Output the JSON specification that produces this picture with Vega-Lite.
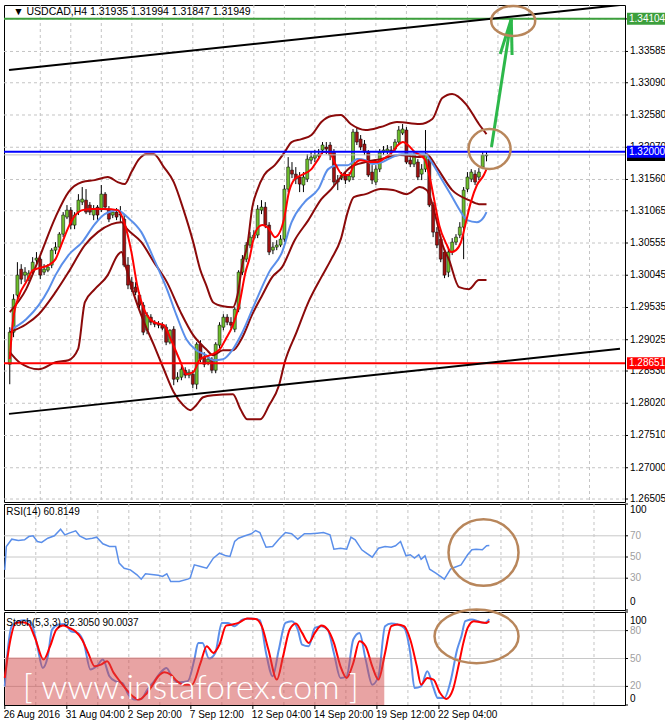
{
"$schema":"https://vega.github.io/schema/vega-lite/v6.json",
"background":"white",
"padding":0,
"spacing":2,
"bounds":"flush",
"config":{"font":"Liberation Sans","view":{"stroke":"#000000","strokeWidth":1}},
"datasets":{
"yticks":[{"v":1.26505},{"v":1.27},{"v":1.2751},{"v":1.2802},{"v":1.2853},{"v":1.29025},{"v":1.29535},{"v":1.30045},{"v":1.30555},{"v":1.31065},{"v":1.3156},{"v":1.3207},{"v":1.3258},{"v":1.3309},{"v":1.33585},{"v":1.341}],
"xgrid":[{"i":8},{"i":16},{"i":24},{"i":32},{"i":40},{"i":48},{"i":56},{"i":64},{"i":72},{"i":80},{"i":88},{"i":96},{"i":104},{"i":112},{"i":120},{"i":128},{"i":136},{"i":144},{"i":152}],
"xlabels":[{"i":0,"t":"26 Aug 2016"},{"i":16,"t":"31 Aug 04:00"},{"i":32,"t":"2 Sep 20:00"},{"i":48,"t":"7 Sep 12:00"},{"i":64,"t":"12 Sep 04:00"},{"i":80,"t":"14 Sep 20:00"},{"i":96,"t":"19 Sep 12:00"},{"i":112,"t":"22 Sep 04:00"}],
"rsilab":[{"v":100},{"v":70},{"v":50},{"v":30},{"v":0}],
"stolab":[{"v":100},{"v":80},{"v":50},{"v":20},{"v":0}],
"candles":[
{"i":0,"o":1.28637,"c":1.29144,"h":1.29223,"l":1.28321},{"i":1,"o":1.29144,"c":1.29666,"h":1.29745,"l":1.29065},{"i":2,"o":1.29730,"c":1.30047,"h":1.30252,"l":1.29650},{"i":3,"o":1.30141,"c":1.29983,"h":1.30220,"l":1.29904},{"i":4,"o":1.30047,"c":1.30094,"h":1.30173,"l":1.29936},{"i":5,"o":1.29999,"c":1.30078,"h":1.30125,"l":1.29952},{"i":6,"o":1.30094,"c":1.30252,"h":1.30332,"l":1.30047},{"i":7,"o":1.30284,"c":1.30316,"h":1.30411,"l":1.30220},{"i":8,"o":1.30300,"c":1.30047,"h":1.30332,"l":1.29983},{"i":9,"o":1.30094,"c":1.30141,"h":1.30220,"l":1.30047},
{"i":10,"o":1.30125,"c":1.30173,"h":1.30220,"l":1.30094},{"i":11,"o":1.30205,"c":1.30442,"h":1.30474,"l":1.30157},{"i":12,"o":1.30442,"c":1.30490,"h":1.30569,"l":1.30379},{"i":13,"o":1.30490,"c":1.30695,"h":1.30727,"l":1.30442},{"i":14,"o":1.30695,"c":1.30997,"h":1.31044,"l":1.30648},{"i":15,"o":1.30965,"c":1.31075,"h":1.31155,"l":1.30933},{"i":16,"o":1.31075,"c":1.30838,"h":1.31123,"l":1.30774},{"i":17,"o":1.30838,"c":1.30997,"h":1.31044,"l":1.30774},{"i":18,"o":1.31044,"c":1.31233,"h":1.31328,"l":1.30997},{"i":19,"o":1.31202,"c":1.31249,"h":1.31440,"l":1.31155},
{"i":20,"o":1.31233,"c":1.31044,"h":1.31408,"l":1.31012},{"i":21,"o":1.31155,"c":1.31044,"h":1.31202,"l":1.30997},{"i":22,"o":1.30997,"c":1.31091,"h":1.31155,"l":1.30917},{"i":23,"o":1.31123,"c":1.30997,"h":1.31155,"l":1.30917},{"i":24,"o":1.31091,"c":1.31328,"h":1.31472,"l":1.31044},{"i":25,"o":1.31328,"c":1.31123,"h":1.31360,"l":1.31075},{"i":26,"o":1.31091,"c":1.30933,"h":1.31139,"l":1.30885},{"i":27,"o":1.30997,"c":1.31044,"h":1.31091,"l":1.30949},{"i":28,"o":1.31044,"c":1.30965,"h":1.31107,"l":1.30917},{"i":29,"o":1.31012,"c":1.30997,"h":1.31139,"l":1.30885},
{"i":30,"o":1.30933,"c":1.30205,"h":1.31012,"l":1.30173},{"i":31,"o":1.30205,"c":1.29889,"h":1.30332,"l":1.29825},{"i":32,"o":1.29936,"c":1.29825,"h":1.30015,"l":1.29777},{"i":33,"o":1.29857,"c":1.29777,"h":1.29936,"l":1.29730},{"i":34,"o":1.29730,"c":1.29572,"h":1.29777,"l":1.29524},{"i":35,"o":1.29572,"c":1.29144,"h":1.29619,"l":1.29097},{"i":36,"o":1.29175,"c":1.29414,"h":1.29461,"l":1.29112},{"i":37,"o":1.29382,"c":1.29302,"h":1.29429,"l":1.29255},{"i":38,"o":1.29302,"c":1.29270,"h":1.29334,"l":1.29223},{"i":39,"o":1.29270,"c":1.29255,"h":1.29319,"l":1.29207},
{"i":40,"o":1.29255,"c":1.29207,"h":1.29302,"l":1.29175},{"i":41,"o":1.29223,"c":1.28986,"h":1.29270,"l":1.28939},{"i":42,"o":1.28986,"c":1.29175,"h":1.29191,"l":1.28954},{"i":43,"o":1.29191,"c":1.28400,"h":1.29239,"l":1.28306},{"i":44,"o":1.28400,"c":1.28432,"h":1.28511,"l":1.28353},{"i":45,"o":1.28432,"c":1.28558,"h":1.28606,"l":1.28384},{"i":46,"o":1.28542,"c":1.28464,"h":1.28590,"l":1.28416},{"i":47,"o":1.28464,"c":1.28511,"h":1.28558,"l":1.28416},{"i":48,"o":1.28479,"c":1.28321,"h":1.28542,"l":1.28258},{"i":49,"o":1.28321,"c":1.28954,"h":1.28986,"l":1.28242},
{"i":50,"o":1.28954,"c":1.28717,"h":1.29017,"l":1.28669},{"i":51,"o":1.28749,"c":1.28637,"h":1.28828,"l":1.28590},{"i":52,"o":1.28669,"c":1.28717,"h":1.28765,"l":1.28622},{"i":53,"o":1.28717,"c":1.28542,"h":1.28749,"l":1.28495},{"i":54,"o":1.28542,"c":1.28954,"h":1.28986,"l":1.28495},{"i":55,"o":1.28939,"c":1.29255,"h":1.29302,"l":1.28891},{"i":56,"o":1.29223,"c":1.29382,"h":1.29429,"l":1.29175},{"i":57,"o":1.29382,"c":1.29302,"h":1.29429,"l":1.29255},{"i":58,"o":1.29302,"c":1.29255,"h":1.29382,"l":1.29207},{"i":59,"o":1.29191,"c":1.29508,"h":1.29540,"l":1.29144},
{"i":60,"o":1.29508,"c":1.30094,"h":1.30125,"l":1.29461},{"i":61,"o":1.30094,"c":1.30300,"h":1.30364,"l":1.30047},{"i":62,"o":1.30300,"c":1.30522,"h":1.30569,"l":1.30252},{"i":63,"o":1.30522,"c":1.30648,"h":1.30727,"l":1.30474},{"i":64,"o":1.30632,"c":1.30680,"h":1.30758,"l":1.30600},{"i":65,"o":1.30680,"c":1.31091,"h":1.31155,"l":1.30632},{"i":66,"o":1.31075,"c":1.31123,"h":1.31233,"l":1.31012},{"i":67,"o":1.31123,"c":1.30838,"h":1.31202,"l":1.30790},{"i":68,"o":1.30838,"c":1.30411,"h":1.30885,"l":1.30364},{"i":69,"o":1.30442,"c":1.30490,"h":1.30569,"l":1.30379},
{"i":70,"o":1.30490,"c":1.30522,"h":1.30600,"l":1.30442},{"i":71,"o":1.30522,"c":1.30616,"h":1.30680,"l":1.30490},{"i":72,"o":1.30616,"c":1.31408,"h":1.31472,"l":1.30569},{"i":73,"o":1.31408,"c":1.31756,"h":1.31914,"l":1.31360},{"i":74,"o":1.31708,"c":1.31645,"h":1.31835,"l":1.31582},{"i":75,"o":1.31645,"c":1.31566,"h":1.31756,"l":1.31487},{"i":76,"o":1.31598,"c":1.31487,"h":1.31677,"l":1.31360},{"i":77,"o":1.31472,"c":1.31598,"h":1.31677,"l":1.31360},{"i":78,"o":1.31566,"c":1.31882,"h":1.31961,"l":1.31519},{"i":79,"o":1.31866,"c":1.31914,"h":1.31993,"l":1.31803},
{"i":80,"o":1.31898,"c":1.31946,"h":1.32025,"l":1.31835},{"i":81,"o":1.31930,"c":1.31961,"h":1.32041,"l":1.31882},{"i":82,"o":1.32025,"c":1.32105,"h":1.32152,"l":1.31961},{"i":83,"o":1.32073,"c":1.32041,"h":1.32152,"l":1.31961},{"i":84,"o":1.32105,"c":1.31946,"h":1.32152,"l":1.31866},{"i":85,"o":1.31993,"c":1.31519,"h":1.32041,"l":1.31456},{"i":86,"o":1.31550,"c":1.31519,"h":1.31630,"l":1.31392},{"i":87,"o":1.31582,"c":1.31630,"h":1.31677,"l":1.31550},{"i":88,"o":1.31630,"c":1.31550,"h":1.31677,"l":1.31487},{"i":89,"o":1.31550,"c":1.31614,"h":1.31677,"l":1.31519},
{"i":90,"o":1.31598,"c":1.32310,"h":1.32357,"l":1.31550},{"i":91,"o":1.32310,"c":1.32152,"h":1.32389,"l":1.32105},{"i":92,"o":1.32199,"c":1.32073,"h":1.32263,"l":1.32025},{"i":93,"o":1.32120,"c":1.31993,"h":1.32184,"l":1.31946},{"i":94,"o":1.31993,"c":1.31630,"h":1.32025,"l":1.31598},{"i":95,"o":1.31677,"c":1.31550,"h":1.31787,"l":1.31487},{"i":96,"o":1.31519,"c":1.31724,"h":1.31787,"l":1.31472},{"i":97,"o":1.31724,"c":1.31993,"h":1.32041,"l":1.31677},{"i":98,"o":1.31993,"c":1.32025,"h":1.32089,"l":1.31946},{"i":99,"o":1.32009,"c":1.32041,"h":1.32105,"l":1.31961},
{"i":100,"o":1.32025,"c":1.31993,"h":1.32089,"l":1.31946},{"i":101,"o":1.32041,"c":1.32152,"h":1.32199,"l":1.31993},{"i":102,"o":1.32152,"c":1.32342,"h":1.32405,"l":1.32120},{"i":103,"o":1.32294,"c":1.32357,"h":1.32437,"l":1.32263},{"i":104,"o":1.32342,"c":1.31835,"h":1.32389,"l":1.31803},{"i":105,"o":1.31866,"c":1.31803,"h":1.31914,"l":1.31756},{"i":106,"o":1.31803,"c":1.31946,"h":1.31993,"l":1.31756},{"i":107,"o":1.31835,"c":1.31598,"h":1.31882,"l":1.31550},{"i":108,"o":1.31645,"c":1.31724,"h":1.31803,"l":1.31550},{"i":109,"o":1.31724,"c":1.31946,"h":1.32342,"l":1.31677},
{"i":110,"o":1.31882,"c":1.31155,"h":1.31946,"l":1.31123},{"i":111,"o":1.31155,"c":1.30727,"h":1.31202,"l":1.30648},{"i":112,"o":1.30727,"c":1.30522,"h":1.30806,"l":1.30474},{"i":113,"o":1.30616,"c":1.30300,"h":1.30664,"l":1.30252},{"i":114,"o":1.30411,"c":1.30047,"h":1.30458,"l":1.29999},{"i":115,"o":1.30094,"c":1.30411,"h":1.30458,"l":1.30015},{"i":116,"o":1.30411,"c":1.30569,"h":1.30632,"l":1.30364},{"i":117,"o":1.30569,"c":1.30648,"h":1.30695,"l":1.30522},{"i":118,"o":1.30680,"c":1.30806,"h":1.30885,"l":1.30632},{"i":119,"o":1.30806,"c":1.31392,"h":1.31440,"l":1.30300},
{"i":120,"o":1.31408,"c":1.31598,"h":1.31677,"l":1.31360},{"i":121,"o":1.31566,"c":1.31677,"h":1.31724,"l":1.31519},{"i":122,"o":1.31645,"c":1.31519,"h":1.31708,"l":1.31472},{"i":123,"o":1.31598,"c":1.31677,"h":1.31740,"l":1.31550},{"i":124,"o":1.31756,"c":1.31946,"h":1.31993,"l":1.31724},{"i":125,"o":1.31935,"c":1.31949,"h":1.31994,"l":1.31847}
],
"bb":[
{"s":"u","i":0,"v":1.29461},{"s":"u","i":4.3,"v":1.29825},{"s":"u","i":7.6,"v":1.30300},{"s":"u","i":12.0,"v":1.30965},{"s":"u","i":15.4,"v":1.31360},{"s":"u","i":19.0,"v":1.31519},{"s":"u","i":22.3,"v":1.31550},{"s":"u","i":25.7,"v":1.31598},{"s":"u","i":28.3,"v":1.31519},{"s":"u","i":30.1,"v":1.31487},{"s":"u","i":31.9,"v":1.31677},{"s":"u","i":33.9,"v":1.31882},{"s":"u","i":35.7,"v":1.31961},{"s":"u","i":37.8,"v":1.31961},{"s":"u","i":40.4,"v":1.31756},{"s":"u","i":43.0,"v":1.31519},{"s":"u","i":45.5,"v":1.31091},{"s":"u","i":48.1,"v":1.30569},{"s":"u","i":49.9,"v":1.30141},{"s":"u","i":51.5,"v":1.29889},{"s":"u","i":53.3,"v":1.29619},{"s":"u","i":55.9,"v":1.29556},{"s":"u","i":58.5,"v":1.29540},{"s":"u","i":59.7,"v":1.29730},{"s":"u","i":61.0,"v":1.30220},{"s":"u","i":62.3,"v":1.30522},{"s":"u","i":63.6,"v":1.31123},{"s":"u","i":64.9,"v":1.31392},{"s":"u","i":66.7,"v":1.31630},{"s":"u","i":69.5,"v":1.31787},{"s":"u","i":72.1,"v":1.31993},{"s":"u","i":73.9,"v":1.32152},{"s":"u","i":76.5,"v":1.32199},{"s":"u","i":79.1,"v":1.32263},{"s":"u","i":81.7,"v":1.32468},{"s":"u","i":84.3,"v":1.32563},{"s":"u","i":86.8,"v":1.32579},{"s":"u","i":89.4,"v":1.32437},{"s":"u","i":93.3,"v":1.32342},{"s":"u","i":97.2,"v":1.32389},{"s":"u","i":101.5,"v":1.32468},{"s":"u","i":107.5,"v":1.32437},{"s":"u","i":110.8,"v":1.32516},{"s":"u","i":113.4,"v":1.32848},{"s":"u","i":116.0,"v":1.32912},{"s":"u","i":119.6,"v":1.32753},{"s":"u","i":123.0,"v":1.32437},{"s":"u","i":125,"v":1.32278},
{"s":"m","i":0,"v":1.29144},{"s":"m","i":4.3,"v":1.29270},{"s":"m","i":7.6,"v":1.29429},{"s":"m","i":12.0,"v":1.29777},{"s":"m","i":15.4,"v":1.30094},{"s":"m","i":19.7,"v":1.30522},{"s":"m","i":23.1,"v":1.30727},{"s":"m","i":26.7,"v":1.30854},{"s":"m","i":29.3,"v":1.30885},{"s":"m","i":30.8,"v":1.30774},{"s":"m","i":34.5,"v":1.30569},{"s":"m","i":37.8,"v":1.30252},{"s":"m","i":41.2,"v":1.29936},{"s":"m","i":44.8,"v":1.29461},{"s":"m","i":48.1,"v":1.29097},{"s":"m","i":51.5,"v":1.28875},{"s":"m","i":53.3,"v":1.28780},{"s":"m","i":55.9,"v":1.28859},{"s":"m","i":58.5,"v":1.28859},{"s":"m","i":61.0,"v":1.29065},{"s":"m","i":63.6,"v":1.29429},{"s":"m","i":66.2,"v":1.29730},{"s":"m","i":68.8,"v":1.30015},{"s":"m","i":71.4,"v":1.30173},{"s":"m","i":74.7,"v":1.30600},{"s":"m","i":78.3,"v":1.30917},{"s":"m","i":81.7,"v":1.31249},{"s":"m","i":84.3,"v":1.31408},{"s":"m","i":86.8,"v":1.31598},{"s":"m","i":89.4,"v":1.31756},{"s":"m","i":93.3,"v":1.31835},{"s":"m","i":97.2,"v":1.31882},{"s":"m","i":102.3,"v":1.31946},{"s":"m","i":107.5,"v":1.31914},{"s":"m","i":109.3,"v":1.31961},{"s":"m","i":111.9,"v":1.31756},{"s":"m","i":116.0,"v":1.31392},{"s":"m","i":120.4,"v":1.31233},{"s":"m","i":123.0,"v":1.31170},{"s":"m","i":125,"v":1.31170},
{"s":"l","i":0,"v":1.28828},{"s":"l","i":2.5,"v":1.28669},{"s":"l","i":7.6,"v":1.28558},{"s":"l","i":12.0,"v":1.28669},{"s":"l","i":15.4,"v":1.28701},{"s":"l","i":17.9,"v":1.28875},{"s":"l","i":19.7,"v":1.29619},{"s":"l","i":22.3,"v":1.29825},{"s":"l","i":25.7,"v":1.30047},{"s":"l","i":28.3,"v":1.30364},{"s":"l","i":29.3,"v":1.30411},{"s":"l","i":30.6,"v":1.30141},{"s":"l","i":32.6,"v":1.29730},{"s":"l","i":35.2,"v":1.29302},{"s":"l","i":37.8,"v":1.28939},{"s":"l","i":40.4,"v":1.28558},{"s":"l","i":43.0,"v":1.28194},{"s":"l","i":45.5,"v":1.27989},{"s":"l","i":47.4,"v":1.27910},{"s":"l","i":48.9,"v":1.27989},{"s":"l","i":50.7,"v":1.28115},{"s":"l","i":53.3,"v":1.28147},{"s":"l","i":58.5,"v":1.28163},{"s":"l","i":60.5,"v":1.27925},{"s":"l","i":62.3,"v":1.27767},{"s":"l","i":65.7,"v":1.27767},{"s":"l","i":68.0,"v":1.27989},{"s":"l","i":70.6,"v":1.28306},{"s":"l","i":72.1,"v":1.28669},{"s":"l","i":75.2,"v":1.29144},{"s":"l","i":78.3,"v":1.29619},{"s":"l","i":81.7,"v":1.30015},{"s":"l","i":84.3,"v":1.30300},{"s":"l","i":86.8,"v":1.30616},{"s":"l","i":88.6,"v":1.31044},{"s":"l","i":90.2,"v":1.31281},{"s":"l","i":93.3,"v":1.31328},{"s":"l","i":97.2,"v":1.31408},{"s":"l","i":100.5,"v":1.31392},{"s":"l","i":104.1,"v":1.31328},{"s":"l","i":107.5,"v":1.31440},{"s":"l","i":109.3,"v":1.31392},{"s":"l","i":111.9,"v":1.30917},{"s":"l","i":113.4,"v":1.30537},{"s":"l","i":115.2,"v":1.30284},{"s":"l","i":117.8,"v":1.29857},{"s":"l","i":120.4,"v":1.29825},{"s":"l","i":123.0,"v":1.29968},{"s":"l","i":125,"v":1.29968}
],
"slow":[
{"i":0,"v":1.29175},{"i":4.3,"v":1.29350},{"i":7.6,"v":1.29572},{"i":10.2,"v":1.29825},{"i":12.0,"v":1.30047},{"i":15.4,"v":1.30364},{"i":19.0,"v":1.30569},{"i":22.3,"v":1.30854},{"i":24.9,"v":1.31012},{"i":28.3,"v":1.31075},{"i":30.8,"v":1.30965},{"i":34.5,"v":1.30727},{"i":37.8,"v":1.30300},{"i":41.2,"v":1.29825},{"i":43.7,"v":1.29414},{"i":46.3,"v":1.29033},{"i":48.9,"v":1.28859},{"i":51.5,"v":1.28780},{"i":53.3,"v":1.28701},{"i":55.9,"v":1.28717},{"i":58.5,"v":1.28875},{"i":61.0,"v":1.29144},{"i":64.4,"v":1.29619},{"i":68.0,"v":1.30094},{"i":71.4,"v":1.30411},{"i":73.9,"v":1.30885},{"i":77.3,"v":1.31202},{"i":80.9,"v":1.31408},{"i":83.5,"v":1.31724},{"i":86.1,"v":1.31787},{"i":88.6,"v":1.31787},{"i":91.2,"v":1.31882},{"i":93.3,"v":1.31866},{"i":95.1,"v":1.31803},{"i":97.7,"v":1.31835},{"i":100.3,"v":1.31914},{"i":102.8,"v":1.31961},{"i":105.4,"v":1.31961},{"i":108.8,"v":1.31961},{"i":110.6,"v":1.31835},{"i":113.2,"v":1.31566},{"i":115.7,"v":1.31313},{"i":118.3,"v":1.31044},{"i":119.9,"v":1.30917},{"i":122.5,"v":1.30885},{"i":124.3,"v":1.30965},{"i":125,"v":1.31044}
],
"fast":[
{"i":0,"v":1.28717},{"i":0.9,"v":1.29350},{"i":2.5,"v":1.29730},{"i":4.3,"v":1.29936},{"i":6.1,"v":1.30125},{"i":7.6,"v":1.30157},{"i":10.2,"v":1.30205},{"i":12.0,"v":1.30300},{"i":13.8,"v":1.30569},{"i":15.4,"v":1.30806},{"i":17.2,"v":1.30997},{"i":19.0,"v":1.31075},{"i":21.5,"v":1.31091},{"i":24.9,"v":1.31091},{"i":28.3,"v":1.31075},{"i":29.5,"v":1.30965},{"i":31.9,"v":1.30411},{"i":33.4,"v":1.29889},{"i":35.2,"v":1.29508},{"i":37.8,"v":1.29302},{"i":40.4,"v":1.29255},{"i":42.2,"v":1.29033},{"i":44.8,"v":1.28669},{"i":46.3,"v":1.28479},{"i":48.1,"v":1.28511},{"i":49.9,"v":1.28717},{"i":52.5,"v":1.28780},{"i":55.1,"v":1.28875},{"i":56.6,"v":1.29033},{"i":58.5,"v":1.29255},{"i":60.3,"v":1.29619},{"i":61.8,"v":1.30094},{"i":62.8,"v":1.30300},{"i":64.4,"v":1.30727},{"i":66.2,"v":1.30838},{"i":68.0,"v":1.30774},{"i":69.5,"v":1.30648},{"i":70.8,"v":1.30727},{"i":71.9,"v":1.30933},{"i":73.2,"v":1.31360},{"i":74.7,"v":1.31566},{"i":76.5,"v":1.31630},{"i":79.1,"v":1.31724},{"i":80.9,"v":1.31882},{"i":82.2,"v":1.31993},{"i":83.7,"v":1.31993},{"i":85.5,"v":1.31787},{"i":87.4,"v":1.31630},{"i":88.9,"v":1.31630},{"i":90.2,"v":1.31787},{"i":92.0,"v":1.31866},{"i":94.6,"v":1.31835},{"i":96.4,"v":1.31835},{"i":97.9,"v":1.31882},{"i":100.3,"v":1.31993},{"i":101.8,"v":1.32105},{"i":103.1,"v":1.32152},{"i":104.4,"v":1.32105},{"i":106.2,"v":1.31993},{"i":108.8,"v":1.31882},{"i":110.1,"v":1.31598},{"i":111.4,"v":1.31202},{"i":112.6,"v":1.30838},{"i":114.5,"v":1.30537},{"i":115.7,"v":1.30411},{"i":117.0,"v":1.30442},{"i":118.3,"v":1.30569},{"i":119.6,"v":1.30885},{"i":120.9,"v":1.31202},{"i":122.5,"v":1.31472},{"i":124.3,"v":1.31630},{"i":125,"v":1.31724}
],
"levels":[{"v":1.31949,"k":"bid"},{"v":1.34104,"k":"target"},{"v":1.32000,"k":"resistance"},{"v":1.28651,"k":"support"}],
"channel":[{"s":"up","i":-0.2,"v":1.33292},{"s":"up","i":160,"v":1.34320},{"s":"lo","i":-0.2,"v":1.27852},{"s":"lo","i":160,"v":1.28881}],
"arrow":[{"s":"shaft","i":126.3,"v":1.32073},{"s":"shaft","i":131.5,"v":1.34099},{"s":"left","i":128.6,"v":1.33545},{"s":"left","i":131.5,"v":1.34099},{"s":"right","i":131.7,"v":1.33529},{"s":"right","i":131.5,"v":1.34099}],
"rsi":[
{"i":0,"v":37.9},{"i":0.4,"v":59.9},{"i":1.8,"v":66.8},{"i":3.5,"v":65.6},{"i":5.1,"v":66.2},{"i":6.2,"v":69.3},{"i":7.3,"v":70.0},{"i":8.4,"v":64.6},{"i":9.5,"v":63.7},{"i":11.1,"v":67.7},{"i":12.8,"v":70.0},{"i":14.4,"v":76.2},{"i":15.5,"v":70.9},{"i":16.6,"v":72.5},{"i":18.3,"v":74.7},{"i":19.3,"v":70.0},{"i":21.0,"v":66.8},{"i":22.6,"v":67.7},{"i":23.7,"v":68.7},{"i":25.3,"v":62.5},{"i":27.0,"v":59.9},{"i":28.6,"v":59.9},{"i":29.5,"v":44.2},{"i":30.8,"v":39.4},{"i":32.4,"v":37.9},{"i":34.1,"v":33.2},{"i":35.2,"v":29.1},{"i":36.3,"v":34.2},{"i":37.9,"v":33.5},{"i":39.6,"v":32.8},{"i":40.7,"v":31.6},{"i":41.8,"v":34.2},{"i":42.8,"v":26.9},{"i":45.0,"v":26.9},{"i":47.2,"v":29.1},{"i":47.8,"v":30.0},{"i":48.9,"v":42.6},{"i":50.5,"v":41.0},{"i":52.1,"v":39.4},{"i":53.8,"v":48.9},{"i":55.4,"v":53.6},{"i":57.1,"v":51.1},{"i":58.1,"v":50.5},{"i":59.3,"v":64.6},{"i":60.3,"v":67.7},{"i":62.0,"v":70.0},{"i":63.6,"v":71.9},{"i":64.7,"v":75.0},{"i":65.8,"v":73.1},{"i":67.4,"v":59.2},{"i":69.1,"v":59.9},{"i":70.7,"v":66.8},{"i":72.4,"v":73.1},{"i":74.0,"v":71.9},{"i":75.6,"v":66.8},{"i":77.3,"v":71.9},{"i":78.9,"v":71.9},{"i":80.6,"v":72.5},{"i":82.2,"v":73.1},{"i":83.9,"v":70.9},{"i":84.9,"v":57.4},{"i":86.6,"v":58.3},{"i":88.2,"v":57.4},{"i":89.3,"v":68.7},{"i":90.4,"v":66.2},{"i":92.1,"v":56.8},{"i":93.1,"v":54.2},{"i":94.8,"v":49.8},{"i":96.4,"v":58.3},{"i":98.1,"v":59.9},{"i":99.7,"v":59.2},{"i":100.8,"v":60.6},{"i":102.1,"v":64.6},{"i":103.5,"v":51.1},{"i":104.6,"v":52.1},{"i":105.7,"v":48.9},{"i":106.8,"v":52.1},{"i":107.4,"v":47.9},{"i":108.4,"v":51.1},{"i":109.6,"v":38.5},{"i":111.2,"v":34.7},{"i":113.4,"v":29.1},{"i":115.0,"v":38.5},{"i":116.1,"v":40.4},{"i":117.7,"v":42.6},{"i":119.4,"v":52.1},{"i":120.5,"v":56.8},{"i":121.6,"v":57.4},{"i":123.2,"v":56.8},{"i":124.3,"v":60.6},{"i":125,"v":60.81}
],
"stk":[
{"i":0,"v":20.1},{"i":0.7,"v":56.0},{"i":1.8,"v":84.7},{"i":3.5,"v":90.1},{"i":5.1,"v":91.2},{"i":6.8,"v":88.3},{"i":8.4,"v":63.2},{"i":9.8,"v":39.9},{"i":11.1,"v":52.4},{"i":12.2,"v":81.1},{"i":13.9,"v":86.5},{"i":15.5,"v":87.2},{"i":17.1,"v":79.3},{"i":18.8,"v":77.5},{"i":20.4,"v":66.8},{"i":22.1,"v":38.1},{"i":23.7,"v":41.6},{"i":25.3,"v":48.8},{"i":27.0,"v":30.9},{"i":28.6,"v":25.5},{"i":30.3,"v":23.7},{"i":31.9,"v":11.1},{"i":33.5,"v":5.8},{"i":35.2,"v":6.5},{"i":36.8,"v":16.5},{"i":38.5,"v":25.5},{"i":40.1,"v":34.5},{"i":41.7,"v":39.9},{"i":43.4,"v":28.0},{"i":45.0,"v":24.4},{"i":47.2,"v":25.5},{"i":48.9,"v":48.8},{"i":49.9,"v":66.8},{"i":51.0,"v":66.8},{"i":52.7,"v":49.9},{"i":54.3,"v":56.0},{"i":56.0,"v":88.3},{"i":57.6,"v":88.3},{"i":59.2,"v":84.7},{"i":61.4,"v":91.9},{"i":63.6,"v":93.0},{"i":65.8,"v":91.2},{"i":67.4,"v":56.0},{"i":69.1,"v":30.9},{"i":70.7,"v":59.6},{"i":72.4,"v":88.3},{"i":74.0,"v":90.1},{"i":75.6,"v":81.1},{"i":76.7,"v":65.0},{"i":78.4,"v":63.2},{"i":80.0,"v":82.9},{"i":81.7,"v":84.7},{"i":83.3,"v":81.1},{"i":84.9,"v":56.0},{"i":86.6,"v":29.1},{"i":88.2,"v":30.9},{"i":89.9,"v":70.4},{"i":91.5,"v":77.5},{"i":93.1,"v":48.8},{"i":94.8,"v":21.9},{"i":96.4,"v":30.9},{"i":98.1,"v":84.7},{"i":99.7,"v":87.6},{"i":101.3,"v":86.5},{"i":103.0,"v":82.9},{"i":104.6,"v":56.0},{"i":105.7,"v":18.3},{"i":107.4,"v":20.1},{"i":109.0,"v":36.3},{"i":110.6,"v":18.3},{"i":111.7,"v":7.6},{"i":113.4,"v":7.6},{"i":115.0,"v":25.5},{"i":116.7,"v":59.6},{"i":117.8,"v":73.9},{"i":118.8,"v":90.1},{"i":120.5,"v":91.9},{"i":122.1,"v":90.1},{"i":123.8,"v":88.3},{"i":125,"v":92.3}
],
"std":[
{"i":0,"v":29.1},{"i":1.3,"v":66.8},{"i":2.9,"v":88.3},{"i":4.6,"v":89.0},{"i":6.2,"v":86.5},{"i":7.8,"v":72.1},{"i":10.0,"v":48.8},{"i":11.7,"v":63.2},{"i":13.3,"v":81.1},{"i":15.0,"v":85.4},{"i":16.6,"v":82.9},{"i":18.2,"v":79.3},{"i":19.9,"v":70.4},{"i":21.5,"v":56.0},{"i":23.2,"v":41.6},{"i":24.8,"v":43.4},{"i":26.4,"v":47.0},{"i":28.1,"v":34.5},{"i":29.7,"v":25.5},{"i":31.4,"v":16.5},{"i":33.0,"v":9.4},{"i":34.6,"v":5.8},{"i":36.3,"v":11.1},{"i":37.9,"v":20.1},{"i":39.6,"v":30.9},{"i":41.2,"v":35.2},{"i":42.8,"v":32.7},{"i":44.5,"v":25.5},{"i":46.1,"v":21.9},{"i":48.3,"v":21.9},{"i":50.5,"v":45.2},{"i":52.1,"v":63.2},{"i":53.8,"v":56.0},{"i":55.4,"v":65.0},{"i":57.1,"v":85.4},{"i":58.7,"v":86.5},{"i":60.3,"v":88.3},{"i":62.5,"v":93.0},{"i":64.7,"v":92.6},{"i":66.3,"v":84.7},{"i":68.0,"v":59.6},{"i":70.2,"v":27.3},{"i":71.8,"v":52.4},{"i":73.5,"v":81.1},{"i":75.1,"v":87.6},{"i":76.7,"v":77.5},{"i":78.4,"v":66.8},{"i":80.0,"v":77.5},{"i":81.7,"v":85.4},{"i":83.3,"v":81.1},{"i":84.9,"v":66.8},{"i":86.6,"v":41.6},{"i":88.2,"v":29.1},{"i":89.9,"v":45.2},{"i":91.5,"v":68.6},{"i":93.1,"v":63.2},{"i":94.8,"v":41.6},{"i":96.4,"v":27.3},{"i":98.1,"v":56.0},{"i":99.7,"v":84.7},{"i":101.3,"v":86.5},{"i":103.0,"v":84.7},{"i":104.6,"v":70.4},{"i":106.3,"v":41.6},{"i":107.4,"v":21.9},{"i":109.0,"v":29.1},{"i":110.6,"v":27.3},{"i":112.3,"v":12.9},{"i":113.9,"v":6.5},{"i":115.6,"v":16.5},{"i":117.2,"v":45.2},{"i":118.3,"v":66.8},{"i":119.4,"v":82.9},{"i":121.0,"v":90.1},{"i":122.7,"v":89.0},{"i":124.3,"v":88.3},{"i":125,"v":90.0}
]
},
"vconcat":[
{
"width":621,"height":497,
"resolve":{"scale":{"color":"independent","fill":"independent"}},
"layer":[
{"data":{"name":"yticks"},"mark":{"type":"rule","color":"#C4C4C4","strokeWidth":1,"strokeDash":[3,3]},
 "encoding":{"y":{"field":"v","type":"quantitative","scale":{"domain":[1.26458,1.3432],"nice":false,"zero":false},"axis":null}}},
{"data":{"name":"xgrid"},"mark":{"type":"rule","color":"#C4C4C4","strokeWidth":1,"strokeDash":[3,3]},
 "encoding":{"x":{"field":"i","type":"quantitative","scale":{"domain":[-0.2,160],"nice":false,"zero":false},"axis":null}}},
{"data":{"name":"candles"},"mark":{"type":"rule","color":"#000000","strokeWidth":1},
 "encoding":{"x":{"field":"i","type":"quantitative","scale":{"domain":[-0.2,160],"nice":false,"zero":false},"axis":null},"y":{"field":"l","type":"quantitative","scale":{"domain":[1.26458,1.3432],"nice":false,"zero":false},"axis":null},"y2":{"field":"h"}}},
{"data":{"name":"candles"},"mark":{"type":"bar","size":3,"stroke":"#000000","strokeWidth":0.5},
 "encoding":{"x":{"field":"i","type":"quantitative","scale":{"domain":[-0.2,160],"nice":false,"zero":false},"axis":null},"y":{"field":"o","type":"quantitative","scale":{"domain":[1.26458,1.3432],"nice":false,"zero":false},"axis":null},"y2":{"field":"c"},
 "color":{"condition":{"test":"datum.c >= datum.o","value":"#6DBE2C"},"value":"#A01010"}}},
{"data":{"name":"bb"},"mark":{"type":"line","color":"#8B0A0A","strokeWidth":2,"interpolate":"monotone"},
 "encoding":{"x":{"field":"i","type":"quantitative","scale":{"domain":[-0.2,160],"nice":false,"zero":false},"axis":null},"y":{"field":"v","type":"quantitative","scale":{"domain":[1.26458,1.3432],"nice":false,"zero":false},"axis":null},"detail":{"field":"s"}}},
{"data":{"name":"slow"},"mark":{"type":"line","color":"#5B8FEA","strokeWidth":2,"interpolate":"monotone"},
 "encoding":{"x":{"field":"i","type":"quantitative","scale":{"domain":[-0.2,160],"nice":false,"zero":false},"axis":null},"y":{"field":"v","type":"quantitative","scale":{"domain":[1.26458,1.3432],"nice":false,"zero":false},"axis":null}}},
{"data":{"name":"fast"},"mark":{"type":"line","color":"#FF0000","strokeWidth":2,"interpolate":"monotone"},
 "encoding":{"x":{"field":"i","type":"quantitative","scale":{"domain":[-0.2,160],"nice":false,"zero":false},"axis":null},"y":{"field":"v","type":"quantitative","scale":{"domain":[1.26458,1.3432],"nice":false,"zero":false},"axis":null}}},
{"data":{"name":"levels"},"transform":[{"filter":"datum.k == 'bid'"}],"mark":{"type":"rule","color":"#C0C0C0","strokeWidth":1},
 "encoding":{"y":{"field":"v","type":"quantitative","scale":{"domain":[1.26458,1.3432],"nice":false,"zero":false},"axis":null}}},
{"data":{"name":"levels"},"transform":[{"filter":"datum.k != 'bid'"}],"mark":{"type":"rule","strokeWidth":2},
 "encoding":{"y":{"field":"v","type":"quantitative","scale":{"domain":[1.26458,1.3432],"nice":false,"zero":false},"axis":null},
 "color":{"field":"k","type":"nominal","scale":{"domain":["target","resistance","support"],"range":["#3C9F3C","#0000FF","#FF0000"]},"legend":null}}},
{"data":{"name":"channel"},"mark":{"type":"line","color":"#000000","strokeWidth":2,"clip":true},
 "encoding":{"x":{"field":"i","type":"quantitative","scale":{"domain":[-0.2,160],"nice":false,"zero":false},"axis":null},"y":{"field":"v","type":"quantitative","scale":{"domain":[1.26458,1.3432],"nice":false,"zero":false},"axis":null},"detail":{"field":"s"}}},
{"data":{"name":"arrow"},"mark":{"type":"line","color":"#2DB84A","strokeWidth":3},
 "encoding":{"x":{"field":"i","type":"quantitative","scale":{"domain":[-0.2,160],"nice":false,"zero":false},"axis":null},"y":{"field":"v","type":"quantitative","scale":{"domain":[1.26458,1.3432],"nice":false,"zero":false},"axis":null},"detail":{"field":"s"}}},
{"data":{"values":[{"i":132.0,"v":1.34068}]},"mark":{"type":"point","shape":"M1,0C1,0.376 0.552,0.68 0,0.68C-0.552,0.68 -1,0.376 -1,0C-1,-0.376 -0.552,-0.68 0,-0.68C0.552,-0.68 1,-0.376 1,0Z","size":1936,"filled":false,"stroke":"#B8865B","strokeWidth":2.5,"opacity":1},
 "encoding":{"x":{"field":"i","type":"quantitative","scale":{"domain":[-0.2,160],"nice":false,"zero":false},"axis":null},"y":{"field":"v","type":"quantitative","scale":{"domain":[1.26458,1.3432],"nice":false,"zero":false},"axis":null}}},
{"data":{"values":[{"i":125.8,"v":1.32041}]},"mark":{"type":"point","shape":"M1,0C1,0.525 0.552,0.95 0,0.95C-0.552,0.95 -1,0.525 -1,0C-1,-0.525 -0.552,-0.95 0,-0.95C0.552,-0.95 1,-0.525 1,0Z","size":1764,"filled":false,"stroke":"#B8865B","strokeWidth":2.5,"opacity":1},
 "encoding":{"x":{"field":"i","type":"quantitative","scale":{"domain":[-0.2,160],"nice":false,"zero":false},"axis":null},"y":{"field":"v","type":"quantitative","scale":{"domain":[1.26458,1.3432],"nice":false,"zero":false},"axis":null}}},
{"data":{"name":"yticks"},"mark":{"type":"point","shape":"M0,0H2","size":9,"filled":false,"stroke":"#000000","strokeWidth":1,"opacity":1},
 "encoding":{"x":{"value":"width"},"y":{"field":"v","type":"quantitative","scale":{"domain":[1.26458,1.3432],"nice":false,"zero":false},"axis":null}}},
{"data":{"name":"yticks"},"mark":{"type":"text","align":"left","baseline":"middle","dx":5,"fontSize":10,"color":"#000000"},
 "encoding":{"x":{"value":"width"},"y":{"field":"v","type":"quantitative","scale":{"domain":[1.26458,1.3432],"nice":false,"zero":false},"axis":null},"text":{"field":"v","type":"quantitative","format":".5f"}}},
{"data":{"name":"levels"},"mark":{"type":"point","shape":"M0.1,-0.3H2.1V0.3H0.1Z","size":1600,"filled":true,"opacity":1,"strokeWidth":0},
 "encoding":{"x":{"value":"width"},"y":{"field":"v","type":"quantitative","scale":{"domain":[1.26458,1.3432],"nice":false,"zero":false},"axis":null},
 "fill":{"field":"k","type":"nominal","scale":{"domain":["bid","target","resistance","support"],"range":["#000000","#3C9F3C","#0000FF","#FF0000"]},"legend":null}}},
{"data":{"name":"levels"},"transform":[{"filter":"datum.k != 'bid'"}],"mark":{"type":"text","align":"left","baseline":"middle","dx":4,"fontSize":10,"color":"#FFFFFF"},
 "encoding":{"x":{"value":"width"},"y":{"field":"v","type":"quantitative","scale":{"domain":[1.26458,1.3432],"nice":false,"zero":false},"axis":null},"text":{"field":"v","type":"quantitative","format":".5f"}}},
{"data":{"values":[{"i":0.9,"v":1.3421,"t":"▼ USDCAD,H4  1.31935 1.31994 1.31847 1.31949"}]},"mark":{"type":"text","align":"left","baseline":"middle","fontSize":10.5,"color":"#000000"},
 "encoding":{"x":{"field":"i","type":"quantitative","scale":{"domain":[-0.2,160],"nice":false,"zero":false},"axis":null},"y":{"field":"v","type":"quantitative","scale":{"domain":[1.26458,1.3432],"nice":false,"zero":false},"axis":null},"text":{"field":"t"}}}
]
},
{
"width":621,"height":106,
"layer":[
{"data":{"name":"xgrid"},"mark":{"type":"rule","color":"#C4C4C4","strokeWidth":1,"strokeDash":[3,3]},
 "encoding":{"x":{"field":"i","type":"quantitative","scale":{"domain":[-0.2,160],"nice":false,"zero":false},"axis":null}}},
{"data":{"values":[{"v":70},{"v":50},{"v":30}]},"mark":{"type":"rule","color":"#C8C8C8","strokeWidth":1},
 "encoding":{"y":{"field":"v","type":"quantitative","scale":{"domain":[0,100],"nice":false,"zero":false},"axis":null}}},
{"data":{"name":"rsi"},"mark":{"type":"line","color":"#5B8FEA","strokeWidth":1.5},
 "encoding":{"x":{"field":"i","type":"quantitative","scale":{"domain":[-0.2,160],"nice":false,"zero":false},"axis":null},"y":{"field":"v","type":"quantitative","scale":{"domain":[0,100],"nice":false,"zero":false},"axis":null}}},
{"data":{"name":"rsilab"},"mark":{"type":"point","shape":"M0,0H2","size":9,"filled":false,"stroke":"#000000","strokeWidth":1,"opacity":1},
 "encoding":{"x":{"value":"width"},"y":{"field":"v","type":"quantitative","scale":{"domain":[0,100],"nice":false,"zero":false},"axis":null}}},
{"data":{"name":"rsilab"},"transform":[{"filter":"datum.v == 100"}],"mark":{"type":"text","align":"left","baseline":"top","dx":5,"dy":1,"fontSize":10,"color":"#000000"},
 "encoding":{"x":{"value":"width"},"y":{"field":"v","type":"quantitative","scale":{"domain":[0,100],"nice":false,"zero":false},"axis":null},"text":{"field":"v","type":"quantitative"}}},
{"data":{"name":"rsilab"},"transform":[{"filter":"datum.v == 0"}],"mark":{"type":"text","align":"left","baseline":"bottom","dx":5,"dy":-3,"fontSize":10,"color":"#000000"},
 "encoding":{"x":{"value":"width"},"y":{"field":"v","type":"quantitative","scale":{"domain":[0,100],"nice":false,"zero":false},"axis":null},"text":{"field":"v","type":"quantitative"}}},
{"data":{"name":"rsilab"},"transform":[{"filter":"datum.v > 0 && datum.v < 100"}],"mark":{"type":"text","align":"left","baseline":"middle","dx":5,"fontSize":10,"color":"#A0A0A0"},
 "encoding":{"x":{"value":"width"},"y":{"field":"v","type":"quantitative","scale":{"domain":[0,100],"nice":false,"zero":false},"axis":null},"text":{"field":"v","type":"quantitative"}}},
{"data":{"values":[{"i":0.4,"v":92.5,"t":"RSI(14) 60.8149"}]},"mark":{"type":"text","align":"left","baseline":"middle","fontSize":10,"color":"#000000"},
 "encoding":{"x":{"field":"i","type":"quantitative","scale":{"domain":[-0.2,160],"nice":false,"zero":false},"axis":null},"y":{"field":"v","type":"quantitative","scale":{"domain":[0,100],"nice":false,"zero":false},"axis":null},"text":{"field":"t"}}},
{"data":{"values":[{"i":123.5,"v":54.2}]},"mark":{"type":"point","shape":"M1,0C1,0.525 0.552,0.95 0,0.95C-0.552,0.95 -1,0.525 -1,0C-1,-0.525 -0.552,-0.95 0,-0.95C0.552,-0.95 1,-0.525 1,0Z","size":4900,"filled":false,"stroke":"#B8865B","strokeWidth":2.5,"opacity":1},
 "encoding":{"x":{"field":"i","type":"quantitative","scale":{"domain":[-0.2,160],"nice":false,"zero":false},"axis":null},"y":{"field":"v","type":"quantitative","scale":{"domain":[0,100],"nice":false,"zero":false},"axis":null}}}
]
},
{
"width":621,"height":93,
"layer":[
{"data":{"name":"xgrid"},"mark":{"type":"rule","color":"#C4C4C4","strokeWidth":1,"strokeDash":[3,3]},
 "encoding":{"x":{"field":"i","type":"quantitative","scale":{"domain":[-0.2,160],"nice":false,"zero":false},"axis":null}}},
{"data":{"values":[{"v":80},{"v":50},{"v":20}]},"mark":{"type":"rule","color":"#C8C8C8","strokeWidth":1},
 "encoding":{"y":{"field":"v","type":"quantitative","scale":{"domain":[0,100],"nice":false,"zero":false},"axis":null}}},
{"data":{"name":"stk"},"mark":{"type":"line","color":"#5B8FEA","strokeWidth":2,"interpolate":"monotone"},
 "encoding":{"x":{"field":"i","type":"quantitative","scale":{"domain":[-0.2,160],"nice":false,"zero":false},"axis":null},"y":{"field":"v","type":"quantitative","scale":{"domain":[0,100],"nice":false,"zero":false},"axis":null}}},
{"data":{"name":"std"},"mark":{"type":"line","color":"#FF0000","strokeWidth":2,"interpolate":"monotone"},
 "encoding":{"x":{"field":"i","type":"quantitative","scale":{"domain":[-0.2,160],"nice":false,"zero":false},"axis":null},"y":{"field":"v","type":"quantitative","scale":{"domain":[0,100],"nice":false,"zero":false},"axis":null}}},
{"data":{"values":[{"i0":0.1,"i1":97.9,"v0":0,"v1":51}]},"mark":{"type":"rect","color":"#D14747","opacity":0.5},
 "encoding":{"x":{"field":"i0","type":"quantitative","scale":{"domain":[-0.2,160],"nice":false,"zero":false},"axis":null},"x2":{"field":"i1"},"y":{"field":"v0","type":"quantitative","scale":{"domain":[0,100],"nice":false,"zero":false},"axis":null},"y2":{"field":"v1"}}},
{"data":{"values":[{"i":48,"v":17,"t":"[  www.instaforex.com  ]"}]},"mark":{"type":"text","align":"center","baseline":"middle","font":"Lato","fontWeight":300,"fontSize":34,"color":"#FFFFFF"},
 "encoding":{"x":{"field":"i","type":"quantitative","scale":{"domain":[-0.2,160],"nice":false,"zero":false},"axis":null},"y":{"field":"v","type":"quantitative","scale":{"domain":[0,100],"nice":false,"zero":false},"axis":null},"text":{"field":"t"}}},
{"data":{"name":"stolab"},"mark":{"type":"point","shape":"M0,0H2","size":9,"filled":false,"stroke":"#000000","strokeWidth":1,"opacity":1},
 "encoding":{"x":{"value":"width"},"y":{"field":"v","type":"quantitative","scale":{"domain":[0,100],"nice":false,"zero":false},"axis":null}}},
{"data":{"name":"stolab"},"transform":[{"filter":"datum.v == 100"}],"mark":{"type":"text","align":"left","baseline":"top","dx":5,"dy":4,"fontSize":10,"color":"#000000"},
 "encoding":{"x":{"value":"width"},"y":{"field":"v","type":"quantitative","scale":{"domain":[0,100],"nice":false,"zero":false},"axis":null},"text":{"field":"v","type":"quantitative"}}},
{"data":{"name":"stolab"},"transform":[{"filter":"datum.v == 0"}],"mark":{"type":"text","align":"left","baseline":"bottom","dx":5,"dy":-1,"fontSize":10,"color":"#000000"},
 "encoding":{"x":{"value":"width"},"y":{"field":"v","type":"quantitative","scale":{"domain":[0,100],"nice":false,"zero":false},"axis":null},"text":{"field":"v","type":"quantitative"}}},
{"data":{"name":"stolab"},"transform":[{"filter":"datum.v > 0 && datum.v < 100"}],"mark":{"type":"text","align":"left","baseline":"middle","dx":5,"fontSize":10,"color":"#A0A0A0"},
 "encoding":{"x":{"value":"width"},"y":{"field":"v","type":"quantitative","scale":{"domain":[0,100],"nice":false,"zero":false},"axis":null},"text":{"field":"v","type":"quantitative"}}},
{"data":{"values":[{"i":0.4,"v":88,"t":"Stoch(5,3,3) 92.3050 90.0037"}]},"mark":{"type":"text","align":"left","baseline":"middle","fontSize":10,"color":"#000000"},
 "encoding":{"x":{"field":"i","type":"quantitative","scale":{"domain":[-0.2,160],"nice":false,"zero":false},"axis":null},"y":{"field":"v","type":"quantitative","scale":{"domain":[0,100],"nice":false,"zero":false},"axis":null},"text":{"field":"t"}}},
{"data":{"values":[{"i":121.7,"v":73.9}]},"mark":{"type":"point","shape":"M1,0C1,0.354 0.552,0.64 0,0.64C-0.552,0.64 -1,0.354 -1,0C-1,-0.354 -0.552,-0.64 0,-0.64C0.552,-0.64 1,-0.354 1,0Z","size":7056,"filled":false,"stroke":"#B8865B","strokeWidth":2.5,"opacity":1},
 "encoding":{"x":{"field":"i","type":"quantitative","scale":{"domain":[-0.2,160],"nice":false,"zero":false},"axis":null},"y":{"field":"v","type":"quantitative","scale":{"domain":[0,100],"nice":false,"zero":false},"axis":null}}},
{"data":{"name":"xlabels"},"mark":{"type":"point","shape":"M0,0V2","size":16,"filled":false,"stroke":"#000000","strokeWidth":1,"opacity":1},
 "encoding":{"x":{"field":"i","type":"quantitative","scale":{"domain":[-0.2,160],"nice":false,"zero":false},"axis":null},"y":{"value":"height"}}},
{"data":{"name":"xlabels"},"mark":{"type":"text","align":"left","baseline":"middle","dx":-1,"dy":10,"fontSize":10,"color":"#000000"},
 "encoding":{"x":{"field":"i","type":"quantitative","scale":{"domain":[-0.2,160],"nice":false,"zero":false},"axis":null},"y":{"value":"height"},"text":{"field":"t"}}}
]
}
]
}
